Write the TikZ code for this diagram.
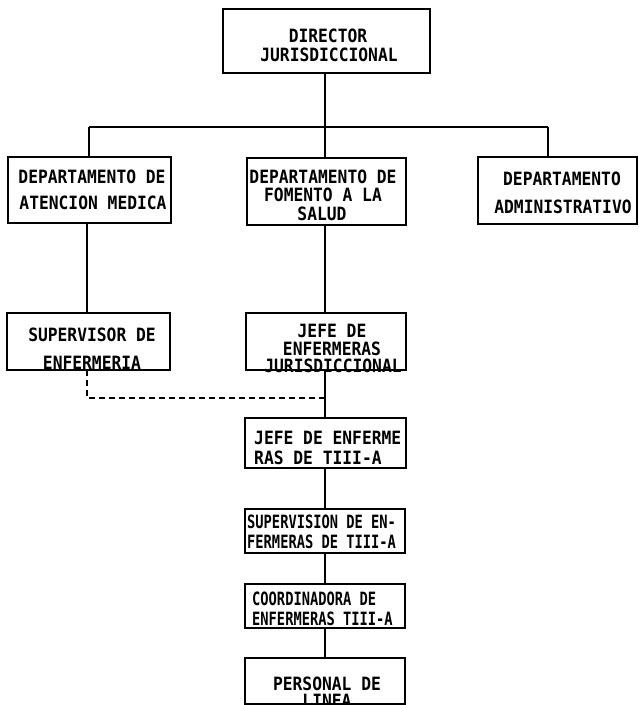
\documentclass[tikz,border=0pt]{standalone}
\usepackage{fontspec}
\newfontfamily\twfont[FakeStretch=0.89]{DejaVu Sans Mono Bold}
\newfontfamily\twnarrow[FakeStretch=0.75]{DejaVu Sans Mono Bold}
\begin{document}
\begin{tikzpicture}[x=1pt,y=-1pt,
  box/.style={draw, line width=1.6pt, inner sep=0pt, outer sep=0pt, rectangle},
  lbl/.style={font=\twfont\fontsize{18.3}{19}\selectfont, inner sep=0pt, anchor=base},
  lbln/.style={font=\twnarrow\fontsize{18.3}{19}\selectfont, inner sep=0pt, anchor=base west},
  conn/.style={line width=1.6pt},
  dconn/.style={line width=1.4pt, dash pattern=on 6pt off 4pt}]
\fill[white] (0,0) rectangle (638,705);
\useasboundingbox (0,0) rectangle (638,705);

% boxes
\node[box, minimum width=207pt, minimum height=64pt] (dir) at (326.5,41) {};
\node[box, minimum width=163pt, minimum height=66pt] (d1) at (89.5,190) {};
\node[box, minimum width=159pt, minimum height=67pt] (d2) at (326.5,191.5) {};
\node[box, minimum width=159pt, minimum height=67pt] (d3) at (557.5,190.5) {};
\node[box, minimum width=163pt, minimum height=57pt] (sup) at (88.5,341.5) {};
\node[box, minimum width=160pt, minimum height=57pt] (jj) at (326,341.5) {};
\node[box, minimum width=161pt, minimum height=50pt] (j3) at (325.5,443) {};
\node[box, minimum width=160pt, minimum height=44pt] (s4) at (325,531) {};
\node[box, minimum width=160pt, minimum height=44pt] (c5) at (325,606) {};
\node[box, minimum width=160pt, minimum height=46pt] (p6) at (325,681) {};

% labels
\node[lbl] (dirA) at (328,42) {DIRECTOR};
\node[lbl] (dirB) at (329,61) {JURISDICCIONAL};
\node[lbl] (d1A) at (92,183) {DEPARTAMENTO DE};
\node[lbl] (d1B) at (93,209) {ATENCION MEDICA};
\node[lbl] (d2A) at (323,183) {DEPARTAMENTO DE};
\node[lbl] (d2B) at (323,201.5) {FOMENTO A LA};
\node[lbl] (d2C) at (322,220) {SALUD};
\node[lbl] (d3A) at (562,185) {DEPARTAMENTO};
\node[lbl] (d3B) at (563,213) {ADMINISTRATIVO};
\node[lbl] (supA) at (92,341.5) {SUPERVISOR DE};
\node[lbl] (supB) at (92,369) {ENFERMERIA};
\node[lbl] (jjA) at (332,337) {JEFE DE};
\node[lbl] (jjB) at (332,355) {ENFERMERAS};
\node[lbl] (jjC) at (333,372) {JURISDICCIONAL};
\node[lbl, anchor=base west] (j3A) at (254,444) {JEFE DE ENFERME};
\node[lbl, anchor=base west] (j3B) at (254,464) {RAS DE TIII-A};
\node[lbln] (s4A) at (247,528) {SUPERVISION DE EN-};
\node[lbln] (s4B) at (247,548) {FERMERAS DE TIII-A};
\node[lbln] (c5A) at (252,605) {COORDINADORA DE};
\node[lbln] (c5B) at (252,625) {ENFERMERAS TIII-A};
\node[lbl] (p6A) at (327,690) {PERSONAL DE};
\node[lbl] (p6B) at (327,707) {LINEA};

% connectors
\coordinate (busL) at (89,127);
\coordinate (busM) at (325,127);
\coordinate (busR) at (548,127);
\coordinate (dashC) at (87,398);
\draw[conn] (dir.south -| busM) -- (busM);
\draw[conn] (busL) -- (busR);
\draw[conn] (busL) -- (busL |- d1.north);
\draw[conn] (busM) -- (busM |- d2.north);
\draw[conn] (busR) -- (busR |- d3.north);
\draw[conn] (d1.south -| dashC) -- (sup.north -| dashC);
\draw[conn] (d2.south -| busM) -- (jj.north -| busM);
\draw[conn] (jj.south -| busM) -- (j3.north -| busM);
\draw[conn] (j3.south -| busM) -- (s4.north -| busM);
\draw[conn] (s4.south -| busM) -- (c5.north -| busM);
\draw[conn] (c5.south -| busM) -- (p6.north -| busM);
\draw[dconn] (sup.south -| dashC) -- (dashC) -- (dashC -| busM);
\end{tikzpicture}
\end{document}
